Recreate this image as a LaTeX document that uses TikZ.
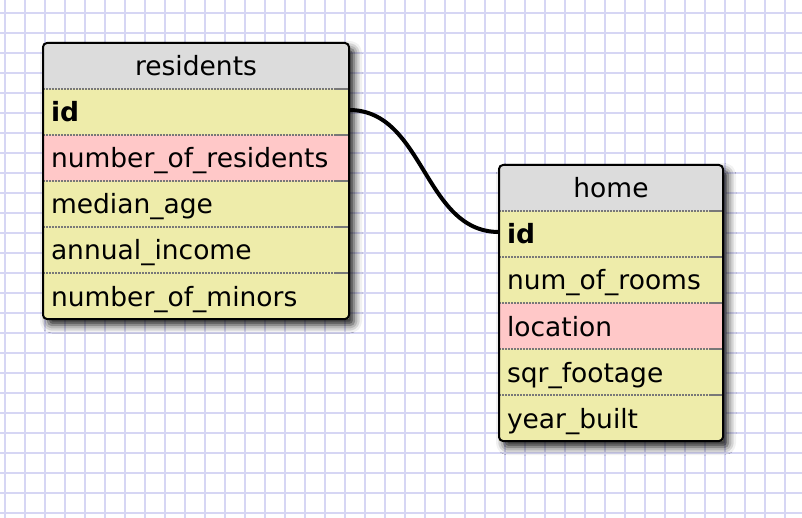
\documentclass[tikz,border=0pt]{standalone}
\usepackage{fontspec}
\setmainfont{DejaVu Sans}
\usetikzlibrary{positioning,backgrounds,shadows.blur}
\definecolor{gridblue}{RGB}{214,214,244}
\definecolor{headgray}{RGB}{220,220,220}
\definecolor{rowyellow}{RGB}{238,236,170}
\definecolor{rowpink}{RGB}{255,200,200}
\definecolor{dotgray}{RGB}{120,120,120}

\begin{document}
\begin{tikzpicture}
  [x=1pt,y=-1pt,
   every node/.style={rectangle,fill=rowyellow,inner xsep=8pt,inner ysep=0pt,outer sep=0pt,
     minimum height=46pt,text height=22pt,text depth=2pt,align=left,
     font=\fontsize{26.5}{30}\selectfont},
   tblhead/.style={fill=headgray,align=center},
   pk/.style={font=\fontsize{26.5}{30}\selectfont\bfseries},
   hot/.style={fill=rowpink},
   rowsep/.style={dotgray,line width=2pt,dash pattern=on 1.5pt off 1.5pt},
   tblframe/.style={draw,line width=2pt,rounded corners=4pt},
   shadowbox/.style={rounded corners=4pt,blur shadow={shadow xshift=5pt,
     shadow yshift=-6pt,shadow blur radius=8pt,shadow opacity=90}},
   fklink/.style={line width=4pt}]
  \useasboundingbox (0,0) rectangle (802,518);
  % paper grid
  \begin{scope}[on background layer]
  \foreach \x in {5,25,...,805}
    \draw[gridblue,line width=1.6pt] (\x,0) -- (\x,518);
  \foreach \y in {13,33,...,513}
    \draw[gridblue,line width=1.6pt] (0,\y) -- (802,\y);
  \end{scope}

  % residents
  \begin{scope}[nodes={text width=290pt}]
  \node[tblhead,anchor=north] (res) at (196,43) {residents};
  \node[pk,below=0pt of res] (resid) {id};
  \node[hot,below=0pt of resid] (resnum) {number\_of\_residents};
  \node[below=0pt of resnum] (resage) {median\_age};
  \node[below=0pt of resage] (resinc) {annual\_income};
  \node[below=0pt of resinc] (resmin) {number\_of\_minors};
  \end{scope}

  % home
  \begin{scope}[nodes={text width=208pt}]
  \node[tblhead,anchor=north] (home) at (611,165) {home};
  \node[pk,below=0pt of home] (homeid) {id};
  \node[below=0pt of homeid] (homerooms) {num\_of\_rooms};
  \node[hot,below=0pt of homerooms] (homeloc) {location};
  \node[below=0pt of homeloc] (homesqr) {sqr\_footage};
  \node[below=0pt of homesqr] (homeyear) {year\_built};
  \end{scope}

  \foreach \n in {res,resid,resnum,resage,resinc,home,homeid,homerooms,homeloc,homesqr}{
    \draw[rowsep] (\n.south west) -- (\n.south east);
    \draw[dotgray,line width=2pt] ([xshift=-14pt]\n.south east) -- (\n.south east);}

  \begin{scope}[on background layer]
  \path[shadowbox] (res.north west) rectangle (resmin.south east);
  \path[shadowbox] (home.north west) rectangle (homeyear.south east);
  \end{scope}
  \draw[tblframe] (res.north west) rectangle (resmin.south east);
  \draw[tblframe] (home.north west) rectangle (homeyear.south east);

  \draw[fklink] ([yshift=2pt]resid.east) to[out=0,in=180] ([yshift=2pt]homeid.west);
\end{tikzpicture}
\end{document}
